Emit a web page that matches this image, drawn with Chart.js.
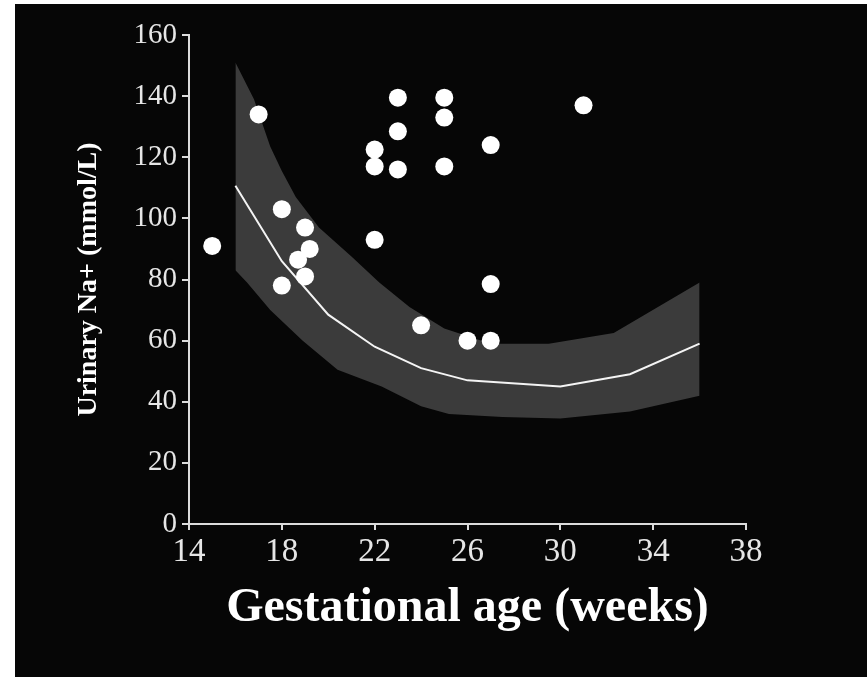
<!DOCTYPE html>
<html>
<head>
<meta charset="utf-8">
<script src="https://cdn.jsdelivr.net/npm/chart.js@4"></script>
<style>
  html, body { margin: 0; padding: 0; background: #ffffff; }
  #wrap { position: absolute; left: 15px; top: 4px; width: 852px; height: 673px; background: #060606; }
</style>
</head>
<body>
<div id="wrap"><canvas id="chart" width="852" height="673"></canvas></div>
<script>
// individual measurements
let weeks  = [15, 17, 18, 18, 18.7, 19, 19, 19.2, 22, 22, 22, 23, 23, 23, 24, 25, 25, 25, 26, 27, 27, 27, 31];
let sodium = [91, 134, 103, 78, 86.5, 97, 81, 90, 122.5, 117, 93, 139.5, 128.5, 116, 65, 139.5, 133, 117, 60, 124, 78.5, 60, 137];

// mean curve
let meanWeeks = [16, 18, 20, 22, 24, 26, 30, 33, 36];
let meanNa    = [110.7, 86, 68.5, 58, 51, 47, 45, 49, 59];

// grey band, upper and lower edge
let upperWeeks = [16, 16.8, 17.5, 18, 18.6, 19.6, 21, 22.2, 23.5, 25, 27, 29.5, 32.3, 36];
let upperNa    = [151, 139, 123.5, 115.5, 107, 97, 87.5, 79, 71, 64, 59, 59, 62.5, 79];
let lowerWeeks = [16, 16.5, 17.5, 18.9, 20.4, 22.3, 24, 25.2, 27.5, 30, 33, 36];
let lowerNa    = [83, 79, 70, 60, 50.5, 45, 38.5, 36, 35, 34.5, 36.8, 42];

let xTicks = [14, 18, 22, 26, 30, 34, 38];
let yTicks = [0, 20, 40, 60, 80, 100, 120, 140, 160];

function pts(xs, ys) {
  return xs.map((x, i) => ({ x: x, y: ys[i] }));
}

let serif = '"Liberation Serif", "DejaVu Serif", serif';
let axisColor = '#dcdcdc';

let ctx = document.getElementById('chart').getContext('2d');
new Chart(ctx, {
  type: 'scatter',
  data: {
    datasets: [
      {
        label: 'Urinary Na+',
        data: pts(weeks, sodium),
        backgroundColor: '#ffffff',
        borderWidth: 0,
        pointRadius: 9,
        order: 0
      },
      {
        type: 'line',
        label: 'mean',
        data: pts(meanWeeks, meanNa),
        borderColor: '#f4f4f4',
        borderWidth: 2,
        pointRadius: 0,
        tension: 0,
        fill: false,
        order: 1
      },
      {
        type: 'line',
        label: 'upper',
        data: pts(upperWeeks, upperNa),
        borderWidth: 0,
        borderColor: 'rgba(0,0,0,0)',
        backgroundColor: '#3b3b3b',
        pointRadius: 0,
        tension: 0,
        fill: 3,
        order: 2
      },
      {
        type: 'line',
        label: 'lower',
        data: pts(lowerWeeks, lowerNa),
        borderWidth: 0,
        borderColor: 'rgba(0,0,0,0)',
        pointRadius: 0,
        tension: 0,
        fill: false,
        order: 3
      }
    ]
  },
  options: {
    responsive: false,
    animation: false,
    layout: { padding: { left: 57, top: 31, right: 121, bottom: 40 } },
    plugins: {
      legend: { display: false },
      tooltip: { enabled: false }
    },
    scales: {
      x: {
        type: 'linear',
        min: 14,
        max: 38,
        afterBuildTicks: s => { s.ticks = xTicks.map(v => ({ value: v })); },
        afterFit: s => { s.height = 113; },
        border: { display: true, color: axisColor, width: 2 },
        grid: { drawOnChartArea: false, color: axisColor, tickLength: 6, lineWidth: 2 },
        ticks: { color: '#e6e6e6', font: { family: serif, size: 33 }, padding: 3, maxRotation: 0 },
        title: {
          display: true,
          text: 'Gestational age (weeks)',
          color: '#ffffff',
          font: { family: serif, size: 48, weight: 'bold' },
          padding: 0
        }
      },
      y: {
        min: 0,
        max: 160,
        afterBuildTicks: s => { s.ticks = yTicks.map(v => ({ value: v })); },
        afterFit: s => { s.width = 117; },
        border: { display: true, color: axisColor, width: 2 },
        grid: { drawOnChartArea: false, color: axisColor, tickLength: 7, lineWidth: 2 },
        ticks: { color: '#e6e6e6', font: { family: serif, size: 29 }, padding: 5 },
        title: {
          display: true,
          text: 'Urinary Na+ (mmol/L)',
          color: '#ffffff',
          font: { family: serif, size: 28, weight: 'bold' },
          padding: 0
        }
      }
    }
  }
});
</script>
</body>
</html>
